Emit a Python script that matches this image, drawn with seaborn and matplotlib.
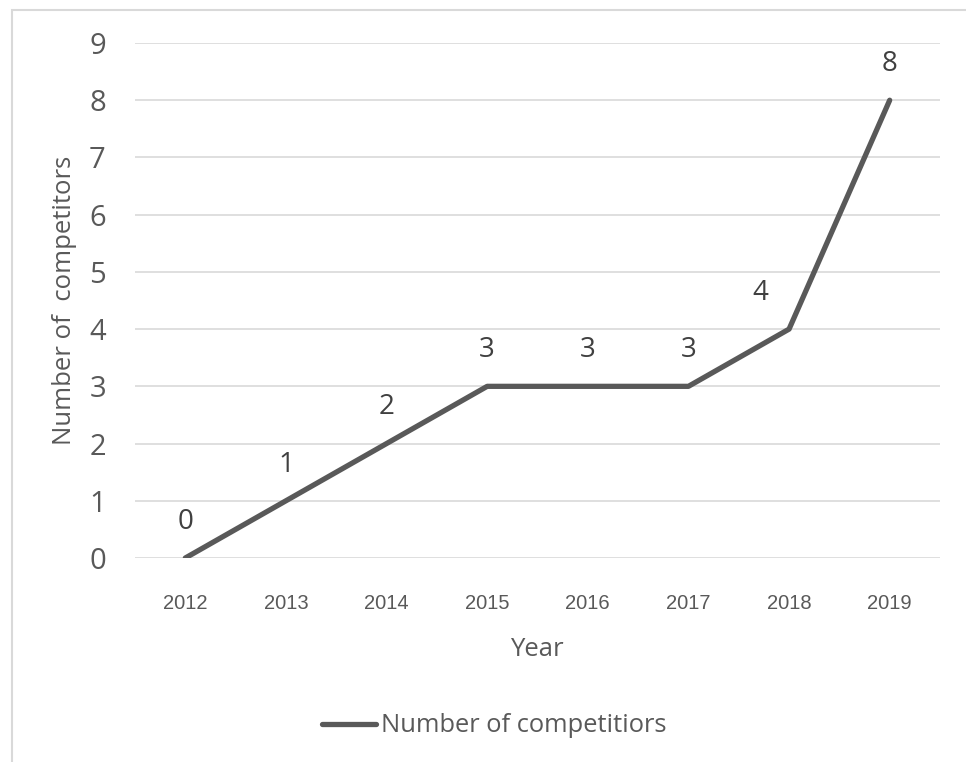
import pandas as pd
import matplotlib.pyplot as plt
import matplotlib.patches as patches
import seaborn as sns

# ─────────────────────────────────────────────
# DATA
# ─────────────────────────────────────────────
YEARS       = ['2012', '2013', '2014', '2015', '2016', '2017', '2018', '2019']
COMPETITORS = [0, 1, 2, 3, 3, 3, 4, 8]
Y_TICKS     = [0, 1, 2, 3, 4, 5, 6, 7, 8, 9]
SERIES_NAME = 'Number of competitiors'

LINE_COLOR = '#595959'
TEXT_COLOR = '#595959'
LABEL_COLOR = '#404040'
GRID_COLOR = '#d9d9d9'

sns.set_theme(style='white')
plt.rcParams['font.family'] = ['Open Sans', 'DejaVu Sans']

df = pd.DataFrame({'Year': YEARS, 'Competitors': COMPETITORS})

fig = plt.figure(figsize=(9.66, 7.62), dpi=100)
ax = fig.add_axes([135 / 966, 1 - 558 / 762, 805 / 966, 515 / 762])

# outer chart border (only left/top visible in the crop)
fig.patches.append(patches.Rectangle(
    (12 / 966, -0.1), 1.2, 1 - 10 / 762 + 0.1,
    transform=fig.transFigure, fill=False, edgecolor=GRID_COLOR, linewidth=1.5
))

sns.lineplot(data=df, x='Year', y='Competitors', ax=ax, color=LINE_COLOR,
             linewidth=3.8, label=SERIES_NAME, solid_capstyle='round', sort=False)

ax.set_xlim(-0.5, len(YEARS) - 0.5)
ax.set_ylim(0, 9)
ax.set_yticks(Y_TICKS)
ax.grid(axis='y', color=GRID_COLOR, linewidth=1.2)
ax.set_axisbelow(True)
for s in ax.spines.values():
    s.set_visible(False)

ax.tick_params(axis='y', length=0, pad=21, labelsize=21, labelcolor=TEXT_COLOR)
ax.tick_params(axis='x', length=0, pad=26, labelsize=14.5, labelcolor=TEXT_COLOR)
for t in ax.get_xticklabels():
    t.set_fontfamily('Liberation Sans')

# data labels
for i, v in enumerate(COMPETITORS):
    dx = -21 if YEARS[i] == '2018' else 0
    ax.annotate(str(v), (i, v), xytext=(dx, 26), textcoords='offset points',
                ha='center', va='center', fontsize=20, color=LABEL_COLOR)

ax.set_xlabel('Year', fontsize=18.5, color=TEXT_COLOR)
ax.xaxis.set_label_coords((537 - 135) / 805, (558 - 650) / 515)
ax.xaxis.label.set_va('center')
ax.set_ylabel('Number of  competitors', fontsize=18.5, color=TEXT_COLOR)
ax.yaxis.set_label_coords((65 - 135) / 805, (558 - 300) / 515)
ax.yaxis.label.set_va('center')

ax.legend(loc='center', bbox_to_anchor=(494 / 966, 1 - 726 / 762),
          bbox_transform=fig.transFigure, frameon=False, fontsize=18.4,
          handlelength=2.1, handletextpad=0.2, labelcolor=TEXT_COLOR)

plt.savefig('out.png', dpi=100)
